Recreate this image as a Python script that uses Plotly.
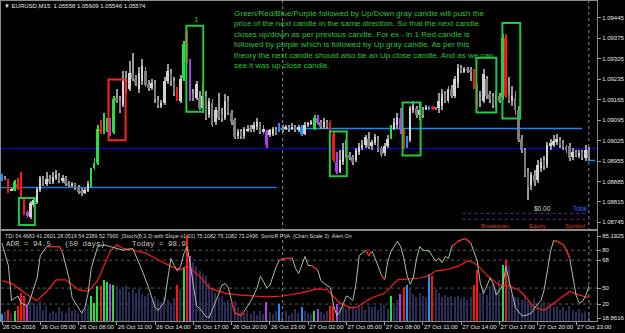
import plotly.graph_objects as go

# ---------------- DATA ----------------
BASE = 1.08700          # candle prices below are in points (1e-5) above this base
open_pts = [189,199,186,155,155,176,158,124,80,63,
104,114,155,193,176,193,182,196,203,186,
196,179,172,176,165,152,145,152,172,230,
247,366,356,360,394,353,472,462,448,530,
503,557,537,503,530,564,520,506,520,462,
445,455,530,557,530,503,462,540,694,598,
486,472,472,435,476,411,455,387,428,411,
404,459,421,394,339,353,339,360,366,363,
370,384,356,353,343,346,363,356,366,363,
370,363,373,360,370,349,377,384,366,404,
387,370,387,387,349,251,216,251,292,274,
268,257,285,298,309,332,305,315,332,298,
281,305,336,366,377,404,356,305,326,428,
438,411,428,435,441,435,438,435,445,486,
462,503,479,523,575,561,571,568,561,513,
462,462,537,486,479,448,479,472,677,486,
462,472,428,332,292,216,172,206,189,230,
257,240,305,309,319,326,315,302,305,268,
285,271,285,264,292]
high_pts = [210,203,193,162,189,196,216,131,87,118,
124,165,203,203,216,206,216,223,213,206,
203,186,182,179,172,162,162,186,230,264,
377,394,418,404,401,476,503,479,564,564,
598,626,551,578,605,578,534,537,534,476,
465,544,588,571,544,510,551,667,701,605,
503,530,496,520,496,472,469,441,489,435,
486,479,428,404,366,363,373,377,377,390,
401,390,377,360,363,370,370,384,377,380,
377,384,380,377,377,387,390,397,411,411,
394,401,394,394,356,285,292,315,326,285,
274,298,315,326,343,353,326,349,339,305,
315,343,377,401,418,435,366,339,445,462,
445,452,441,448,445,445,441,489,503,496,
513,517,547,588,585,578,578,578,571,520,
496,571,547,496,489,496,489,690,690,544,
513,496,445,343,298,230,216,223,257,264,
271,319,332,343,346,336,326,309,315,298,
292,292,292,309,302]
low_pts = [186,189,145,152,152,155,128,70,60,56,
97,107,148,169,169,176,176,189,179,179,
169,165,165,155,141,135,141,148,165,223,
240,349,346,353,339,346,455,421,441,489,
496,530,513,489,517,510,496,499,455,438,
435,448,520,513,479,459,455,530,592,462,
462,465,428,421,394,404,373,380,397,390,
397,411,377,329,332,332,332,353,356,356,
360,349,349,298,336,339,343,353,356,360,
356,360,353,356,339,343,370,380,360,377,
363,363,366,353,251,210,213,240,264,257,
240,251,274,292,298,295,292,309,285,268,
271,298,329,360,366,349,295,298,319,421,
401,394,401,428,428,431,428,421,428,452,
455,472,472,506,557,557,557,530,503,438,
441,452,469,452,438,435,455,465,472,452,
445,411,319,281,199,121,155,169,179,216,
223,230,292,302,309,298,292,281,254,257,
268,264,257,254,257]
close_pts = [203,196,152,158,182,162,131,77,66,111,
121,158,196,179,193,182,199,206,186,196,
176,172,176,162,148,145,155,176,220,247,
366,356,380,397,353,469,462,428,530,503,
557,537,523,557,581,517,506,523,469,448,
455,530,564,530,489,462,537,656,598,472,
472,520,435,479,401,462,380,428,404,401,
462,418,387,336,353,339,363,366,363,377,
387,356,366,309,360,363,349,377,363,370,
363,373,360,370,346,380,384,390,404,384,
370,387,373,356,257,216,257,292,271,264,
251,292,302,309,336,302,319,336,292,274,
305,332,366,387,404,360,302,332,438,445,
411,428,414,441,435,438,435,462,486,462,
503,479,537,575,564,571,564,561,513,445,
452,554,479,469,448,482,462,677,479,462,
479,428,326,292,206,165,206,182,240,251,
237,309,315,322,329,309,302,292,264,285,
274,281,268,292,264]

# signal-coloured bars (G green, R red, B blue, P purple); others are gray
signal_bars = {0:'B',2:'R',4:'G',5:'R',6:'R',7:'R',8:'P',28:'G',29:'G',30:'G',31:'R',32:'G',
               33:'G',34:'P',35:'G',55:'R',57:'G',58:'R',59:'P',83:'P',87:'B',94:'B',98:'G',
               99:'P',103:'R',104:'R',105:'P',122:'G',125:'P',126:'R',127:'B',134:'B',135:'R',
               148:'R',149:'R',157:'G',158:'R'}

# PVA volume (indicator scale)
volume = [9,11,13,10,12,17,32,29,17,27, 21,18,23,13,18,10,12,10,16,12,
          10,16,12,13,10,12,16,19,29,21, 40,40,46,44,42,41,40,36,39,41,
          33,36,32,36,31,29,32,24,29,24, 22,28,24,20,26,41,36,61,97,73,
          67,62,57,53,51,43,36,32,27,29, 22,24,19,23,16,12,10,13,9,12,
          8,12,9,22,11,9,12,20,9,12, 8,10,14,10,16,12,10,9,12,14,
          11,9,12,18,18,20,16,18,14,17, 18,14,17,18,13,17,16,18,13,17,
          19,14,29,21,24,31,39,41,36,31, 28,32,29,27,53,51,36,32,27,30,
          28,29,27,29,26,28,24,27,41,58, 32,36,30,40,43,36,47,63,69,63,
          30,28,27,24,29,23,21,26,21,19, 22,18,20,16,18,13,16,12,18,13,
          11,14,10,12,9]

stoch_bars = [0,2,3,5,6,8,9,11,12,14,16,18,19,21,22,24,25,26,27,28,30,32,34,36,38,41,42,44,46,48,
              49,51,52,53,54,55,56,57,58,59,60,61,62,63,64,65,67,69,70,71,72,73,75,76,78,80,81,82,83,84,
              85,86,87,89,91,92,93,94,95,96,97,99,100,101,103,104,105,106,108,109,110,111,112,114,115,116,117,119,120,121,
              122,124,125,126,127,128,129,130,131,132,134,135,136,137,138,139,140,141,143,145,146,147,149,150,151,152,153,154,155,157,
              158,159,160,161,163,164,166,167,169,170,171,172,173,174,176,177,178,179,180,181,182,183,184]
stoch_vals = [88,63,24,29,21,18,27,49,74,84,84,84,77,49,27,16,10,16,32,60,84,86,84,82,80,82,74,57,38,16,
              13,23,49,71,63,57,62,76,84,66,41,18,15,10,6,5,24,41,43,38,23,10,7,12,23,38,51,45,38,41,
              52,62,69,71,71,60,54,63,73,63,63,58,46,43,38,18,7,12,29,27,24,43,74,80,74,79,71,52,47,68,
              79,90,84,71,52,42,50,71,84,80,79,73,68,71,66,73,71,84,90,93,91,88,68,43,32,40,49,43,30,41,
              62,46,30,16,7,7,10,16,24,36,57,79,91,90,86,80,71,51,30,21,23,29,40]
stoch_red_ranges = [(14,19),(72,76),(87,91),(97,99),(114,116),(119,120),(141,147),(173,178)]

tdi_bars = [0,3,8,11,14,17,20,24,27,30,32,34,36,38,41,45,49,53,56,58,60,62,65,70,75,79,83,88,93,99,
            102,103,106,109,111,113,116,120,124,131,134,136,139,143,146,148,150,152,156,159,162,164,167,170,173,177,178,181,184]
tdi_vals = [46,43,30,24,34,47,47,36,34,46,63,79,86,82,80,77,69,62,58,63,57,51,38,32,30,29,28,29,32,37,
            36,32,21,16,16,21,27,32,47,49,52,57,58,62,68,66,60,52,41,40,36,29,16,13,21,32,34,30,27]

ind_levels = [80, 68.9, 37.8, 20]
ind_tick_vals = [95.6, 80, 68.9, 37.8, 20, 4.4]
ind_tick_text = ['85.1925', '80', '68', '50', '20', '18.8616']

price_ticks = [1.08745, 1.08815, 1.08885, 1.08955, 1.09025, 1.09095, 1.09165, 1.09235, 1.09305, 1.09375, 1.09445]
time_ticks = list(range(0, 181, 12))
time_labels = ['26 Oct 2016', '26 Oct 05:00', '26 Oct 08:00', '26 Oct 11:00', '26 Oct 14:00', '26 Oct 17:00',
               '26 Oct 20:00', '26 Oct 23:00', '27 Oct 02:00', '27 Oct 05:00', '27 Oct 08:00', '27 Oct 11:00',
               '27 Oct 14:00', '27 Oct 17:00', '27 Oct 20:00', '27 Oct 23:00']

# horizontal price levels: (price, first bar, last bar, colour)
level_lines = [(1.08998, None, None, '#0a0aa8'), (1.08864, -0.3, 86.2, '#1f78d8'),
               (1.09066, 87.2, 181.9, '#1e88f0'), (1.08957, 183.6, 186.0, '#1e88f0')]
# highlight boxes: (left bar, right bar, low pts, high pts, colour)
boxes = [(5.3, 10.3, 36, 128, '#22c840'), (33.4, 38.75, 326, 534, '#ff2424'),
         (57.8, 63.1, 424, 718, '#22c840'), (102.8, 108.1, 203, 356, '#22c840'),
         (125.6, 131.25, 274, 455, '#22c840'), (148.75, 155.0, 421, 609, '#22c840'),
         (156.9, 162.5, 401, 728, '#22c840')]
separators = [88, 184]

note_lines = ["Green/Red/Blue/Purple followed by Up/Down gray candle will push the",
              "price of the next candle in the same direction. So that the next candle",
              "closes up/down as per previous candle. For ex - in 1 Red candle is",
              "followed by purple which is followed by Up gray candle. As per this",
              "theory the next candle should also be an Up close candle. And as we can",
              "see it was up close candle."]

# ---------------- STYLE / LAYOUT HELPERS ----------------
W, H = 625, 333
PW, PH = 598, 321
def px(x): return x / PW
def py(y): return (PH - y) / PH

SIG = {'G': '#22e040', 'R': '#ff1414', 'B': '#1e90ff', 'P': '#b23cf0'}
UP, DN, WICK = '#d2d2d2', '#7c7c7c', '#9a9a9a'

n = len(open_pts)
idx = list(range(n))
body_col, wick_col, body_base, body_h, wick_base, wick_h = [], [], [], [], [], []
for i in idx:
    o, h, l, c = open_pts[i], high_pts[i], low_pts[i], close_pts[i]
    if i in signal_bars:
        col = SIG[signal_bars[i]]; wc = col
    else:
        col = UP if c >= o else DN; wc = WICK
    body_col.append(col); wick_col.append(wc)
    lo, hi = min(o, c), max(o, c)
    body_base.append(BASE + lo * 1e-5)
    body_h.append(max(hi - lo, 1) * 1e-5)
    wick_base.append(BASE + l * 1e-5)
    wick_h.append(max(h - l, 1) * 1e-5)

vol_col = [SIG[signal_bars[i]] if i in signal_bars else '#2c2c58' for i in idx]

fig = go.Figure()
fig.add_trace(go.Bar(x=idx, y=wick_h, base=wick_base, width=0.3, marker=dict(color=wick_col, line=dict(width=0)),
                     xaxis='x', yaxis='y'))
fig.add_trace(go.Bar(x=idx, y=body_h, base=body_base, width=0.62, marker=dict(color=body_col, line=dict(width=0)),
                     xaxis='x', yaxis='y'))
fig.add_trace(go.Bar(x=idx, y=volume, width=0.45, marker=dict(color=vol_col, line=dict(width=0)),
                     xaxis='x2', yaxis='y2'))
fig.add_trace(go.Scatter(x=tdi_bars, y=tdi_vals, mode='lines', line=dict(color='#ff1a1a', width=1.2),
                         xaxis='x2', yaxis='y2'))
fig.add_trace(go.Scatter(x=stoch_bars, y=stoch_vals, mode='lines', line=dict(color='#a4c4a0', width=1),
                         xaxis='x2', yaxis='y2'))
rx, ry = [], []
for a, b in stoch_red_ranges:
    for bb, vv in zip(stoch_bars, stoch_vals):
        if a <= bb <= b:
            rx.append(bb); ry.append(vv)
    rx.append(None); ry.append(None)
fig.add_trace(go.Scatter(x=rx, y=ry, mode='lines', line=dict(color='#ff1a1a', width=1.2),
                         xaxis='x2', yaxis='y2', connectgaps=False))

shapes = []
for lv in ind_levels:
    shapes.append(dict(type='line', xref='paper', x0=0, x1=1, yref='y2', y0=lv, y1=lv,
                       line=dict(color='#5c5c5c', width=1, dash='dot'), layer='below'))
for price, a, b, col in level_lines:
    if a is None:
        shapes.append(dict(type='line', xref='paper', x0=0, x1=1, yref='y', y0=price, y1=price,
                           line=dict(color=col, width=1.5), layer='below'))
    else:
        shapes.append(dict(type='line', xref='x', x0=a, x1=b, yref='y', y0=price, y1=price,
                           line=dict(color=col, width=1.5), layer='below'))
for a, b, lo, hi, col in boxes:
    shapes.append(dict(type='rect', xref='x', x0=a, x1=b, yref='y', y0=BASE + lo * 1e-5, y1=BASE + hi * 1e-5,
                       line=dict(color=col, width=2)))
for s in separators:
    shapes.append(dict(type='line', xref='x', x0=s, x1=s, yref='paper', y0=0, y1=1,
                       line=dict(color='#8a8a8a', width=1, dash='dot')))
# purple dotted lines of the account panel
for yy in (213, 219):
    shapes.append(dict(type='line', xref='paper', x0=px(463), x1=px(590), yref='paper', y0=py(yy), y1=py(yy),
                       line=dict(color='#6a2a9a', width=1, dash='dot')))

F = 'Liberation Sans, Arial, sans-serif'
ann = []
def txt(x, y, t, size, color, family=F, xanchor='left', yanchor='middle'):
    ann.append(dict(x=px(x), y=py(y), xref='paper', yref='paper', text=t, showarrow=False,
                    xanchor=xanchor, yanchor=yanchor, align='left',
                    font=dict(size=size, color=color, family=family)))

txt(1, 5, '\u25bc EURUSD,M15  1.05558 1.05609 1.05546 1.05574', 6, '#e8e8e8')
txt(232, 6.5, '<br>'.join(note_lines), 8, '#2ec43a', yanchor='top')
ann.append(dict(x=60.9, y=BASE + 738 * 1e-5, xref='x', yref='y', text='1', showarrow=False,
                font=dict(size=8, color='#2ec43a', family=F)))
txt(533, 208, '$0.00', 6.5, '#d8d8d8')
txt(572, 208, 'Total', 6.5, '#2a6cff')
txt(480, 225.5, 'Breakeven', 6, '#d2401e')
txt(528, 225.5, 'Equity', 6, '#d2401e')
txt(564, 225.5, 'Symbol', 6, '#d2401e')
txt(2, 235.5, 'TDI 54.4683 41.2601 28.0519 54.2389 52.7900  [Stoch(8,3,3) with Slope v1.01] 75.1082 75.1082 73.2496  '
              'SonicR PVA  (Chart Scale 3)  Alert On', 5.4, '#d8d8d8')
txt(3, 243.5, 'ADR = 94.5   (50 days)      Today = 98.9', 7.5, '#c8c8c8', family='Liberation Mono, Courier New, monospace')

STEP, STEP_PX = 0.0007, 20.5
ytop = 1.09445 + 17 * STEP / STEP_PX
ybot = 1.09445 - (229 - 17) * STEP / STEP_PX
xr = [(0 - 1) / 3.2, (PW - 1) / 3.2]

axis_line = '#8c8c8c'
tickfont = dict(size=6, color='#e6e6e6', family=F)
fig.update_layout(
    width=W, height=H, margin=dict(l=0, r=W - PW, t=0, b=H - PH),
    paper_bgcolor='black', plot_bgcolor='black', showlegend=False, barmode='overlay', bargap=0,
    shapes=shapes, annotations=ann,
    xaxis=dict(domain=[0, 1], anchor='y', range=xr, showticklabels=False, showgrid=False, zeroline=False,
               showline=True, mirror=True, linecolor=axis_line, linewidth=1, ticks=''),
    xaxis2=dict(domain=[0, 1], anchor='y2', range=xr, matches='x', showgrid=False, zeroline=False,
                showline=True, mirror=True, linecolor=axis_line, linewidth=1,
                tickmode='array', tickvals=time_ticks, ticktext=time_labels, ticks='outside', ticklen=3,
                tickangle=0, tickcolor='#a0a0a0', ticklabelposition='outside right', tickfont=tickfont),
    yaxis=dict(domain=[py(229), 1], anchor='x', side='right', range=[ybot, ytop], showgrid=False, zeroline=False,
               showline=True, mirror=True, linecolor=axis_line, linewidth=1,
               tickmode='array', tickvals=price_ticks, ticktext=['%.5f' % t for t in price_ticks],
               ticks='outside', ticklen=3, tickcolor='#a0a0a0', tickfont=tickfont),
    yaxis2=dict(domain=[0, py(231)], anchor='x2', side='right', range=[(322 - 321) / 0.9, (322 - 231) / 0.9],
                showgrid=False, zeroline=False, showline=True, mirror=True, linecolor=axis_line, linewidth=1,
                tickmode='array', tickvals=ind_tick_vals, ticktext=ind_tick_text,
                ticks='outside', ticklen=3, tickcolor='#a0a0a0', tickfont=tickfont),
)

fig.write_html("out.html", config={'displayModeBar': False})
